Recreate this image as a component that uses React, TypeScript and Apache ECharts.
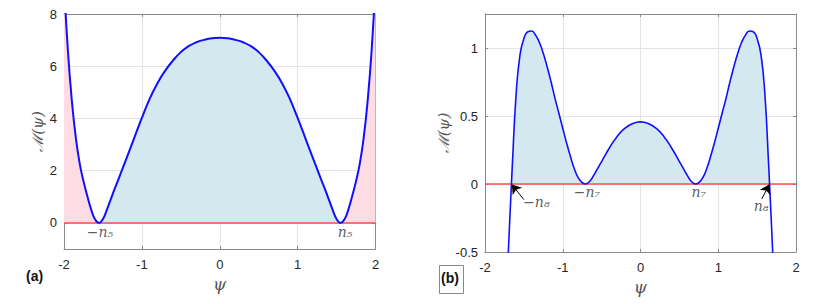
import React, { useEffect, useRef } from "react";
import * as echarts from "echarts";

// Panel (a): M(psi)
const psiA = [
  -2, -1.95, -1.9, -1.85, -1.8, -1.75, -1.7, -1.65, -1.6, -1.55, -1.5, -1.45, -1.4, -1.35,
  -1.3, -1.2, -1.1, -1.0, -0.9, -0.8, -0.7, -0.6, -0.5, -0.4, -0.3, -0.2, -0.1,
  0,
  0.1, 0.2, 0.3, 0.4, 0.5, 0.6, 0.7, 0.8, 0.9, 1.0, 1.1, 1.2, 1.3,
  1.35, 1.4, 1.45, 1.5, 1.55, 1.6, 1.65, 1.7, 1.75, 1.8, 1.85, 1.9, 1.95, 2,
];
const mA = [
  9.2, 6.6, 4.7, 3.3, 2.3, 1.6, 1.02, 0.5, 0.13, 0, 0.15, 0.5, 0.9, 1.3,
  1.68, 2.45, 3.24, 4.02, 4.75, 5.35, 5.83, 6.22, 6.54, 6.77, 6.92, 7.01, 7.07,
  7.09,
  7.07, 7.01, 6.92, 6.77, 6.54, 6.22, 5.83, 5.35, 4.75, 4.02, 3.24, 2.45, 1.68,
  1.3, 0.9, 0.5, 0.15, 0, 0.13, 0.5, 1.02, 1.6, 2.3, 3.3, 4.7, 6.6, 9.2,
];
const n5 = 1.55;

// Panel (b): M(psi)
const psiB = [
  -1.75, -1.7, -1.66, -1.65, -1.6, -1.55, -1.5, -1.45, -1.4, -1.35, -1.3, -1.25, -1.2,
  -1.15, -1.1, -1.05, -1.0, -0.95, -0.9, -0.85, -0.8, -0.75, -0.71, -0.65, -0.6, -0.55,
  -0.5, -0.4, -0.3, -0.2, -0.1,
  0,
  0.1, 0.2, 0.3, 0.4, 0.5,
  0.55, 0.6, 0.65, 0.71, 0.75, 0.8, 0.85, 0.9, 0.95, 1.0, 1.05, 1.1, 1.15,
  1.2, 1.25, 1.3, 1.35, 1.4, 1.45, 1.5, 1.55, 1.6, 1.65, 1.66, 1.7, 1.75,
];
const mB = [
  -1.2, -0.5, 0, 0.12, 0.66, 0.95, 1.07, 1.12, 1.125, 1.095, 1.04, 0.96, 0.86,
  0.75, 0.63, 0.52, 0.41, 0.3, 0.2, 0.11, 0.045, 0.01, 0, 0.022, 0.065, 0.115,
  0.165, 0.265, 0.35, 0.41, 0.445,
  0.457,
  0.445, 0.41, 0.35, 0.265, 0.165,
  0.115, 0.065, 0.022, 0, 0.01, 0.045, 0.11, 0.2, 0.3, 0.41, 0.52, 0.63, 0.75,
  0.86, 0.96, 1.04, 1.095, 1.125, 1.12, 1.07, 0.95, 0.66, 0.12, 0, -0.5, -1.2,
];
const n8 = 1.66;

const xTicks = [-2, -1, 0, 1, 2];
const yTicksA = [0, 2, 4, 6, 8];
const yTicksB = [-0.5, 0, 0.5, 1];

const annotA = ["−n₅", "n₅"];
const annotAPos = [[-1.54, -0.33], [1.61, -0.33]];
const annotB = ["−n₇", "n₇", "−n₈", "n₈"];
const annotBPos = [[-0.69, -0.06], [0.75, -0.06], [-1.34, -0.135], [1.55, -0.16]];
const arrowsB = [
  [[-1.5, -0.115], [-1.655, -0.004]],
  [[1.56, -0.11], [1.655, -0.004]],
];

const BLUE = "#1010ff";
const LIGHTBLUE = "#d4e8f0";
const PINK = "#ffdce3";
const RED = "#ff4d4d";
const GRID = "#e4e4e4";
const BORDER = "#8a8a8a";
const TXT = "#262626";

function App() {
  const ref = useRef<HTMLDivElement>(null);
  useEffect(() => {
    if (!ref.current) return;
    const chart = echarts.init(ref.current, null, { renderer: "svg" });
    const ptsA = psiA.map((x, i) => [x, mA[i]]);
    const ptsB = psiB.map((x, i) => [x, mB[i]]);

    const mkX = (gi: number, pos: "bottom" | "top", main: boolean) => ({
      type: "value",
      gridIndex: gi,
      position: pos,
      min: -2,
      max: 2,
      axisLine: { show: true, onZero: false, lineStyle: { color: BORDER, width: 1 } },
      axisTick: { show: true, inside: true, length: 3, customValues: xTicks, lineStyle: { color: BORDER } },
      axisLabel: main
        ? { show: true, customValues: xTicks, color: TXT, fontSize: 13, fontFamily: "Liberation Sans, Arial", margin: 9 }
        : { show: false },
      splitLine: main ? { show: true, lineStyle: { color: GRID, width: 1 } } : { show: false },
      name: main ? "ψ" : "",
      nameLocation: "middle",
      nameGap: 21,
      nameTextStyle: { fontFamily: "DejaVu Serif", fontStyle: "italic", fontSize: 17, color: "#555" },
    });
    const mkY = (gi: number, pos: "left" | "right", main: boolean, min: number, max: number, ticks: number[]) => ({
      type: "value",
      gridIndex: gi,
      position: pos,
      min,
      max,
      axisLine: { show: true, onZero: false, lineStyle: { color: BORDER, width: 1 } },
      axisTick: { show: true, inside: true, length: 3, customValues: ticks, lineStyle: { color: BORDER } },
      axisLabel: main
        ? { show: true, customValues: ticks, color: TXT, fontSize: 13, fontFamily: "Liberation Sans, Arial", margin: 7 }
        : { show: false },
      splitLine: main ? { show: true, lineStyle: { color: GRID, width: 1 } } : { show: false },
      name: main ? "ℳ(ψ)" : "",
      nameLocation: "middle",
      nameGap: 16,
      nameRotate: 90,
      nameTextStyle: { fontFamily: "DejaVu Serif", fontStyle: "italic", fontSize: 15, color: "#555" },
    });

    const annLabel = {
      show: true,
      position: "inside",
      formatter: (p: any) => p.data[2],
      fontFamily: "DejaVu Serif",
      fontStyle: "italic",
      fontSize: 14,
      color: "#333",
    };

    const SM = 0.5;
    const option: any = {
      animation: false,
      grid: [
        { left: 64, top: 14, width: 311.5, height: 235 },
        { left: 485, top: 14, width: 311, height: 238 },
      ],
      xAxis: [mkX(0, "bottom", true), mkX(0, "top", false), mkX(1, "bottom", true), mkX(1, "top", false)],
      yAxis: [
        mkY(0, "left", true, -1, 8, yTicksA),
        mkY(0, "right", false, -1, 8, yTicksA),
        mkY(1, "left", true, -0.5, 1.25, yTicksB),
        mkY(1, "right", false, -0.5, 1.25, yTicksB),
      ],
      graphic: [
        { type: "text", left: 26, top: 269, style: { text: "(a)", font: "bold 14px 'Liberation Sans', Arial", fill: "#111" } },
        { type: "rect", shape: { x: 439.5, y: 265.5, width: 24, height: 28 }, style: { fill: "none", stroke: "#888", lineWidth: 1 } },
        { type: "text", left: 441, top: 271, style: { text: "(b)", font: "bold 14px 'Liberation Sans', Arial", fill: "#111" } },
      ],
      series: [
        // panel (a) areas
        {
          type: "line", xAxisIndex: 0, yAxisIndex: 0, smooth: SM, symbol: "none",
          data: ptsA.filter((p) => p[0] <= -n5),
          lineStyle: { width: 0 }, areaStyle: { color: PINK, opacity: 1 }, z: 1,
        },
        {
          type: "line", xAxisIndex: 0, yAxisIndex: 0, smooth: SM, symbol: "none",
          data: ptsA.filter((p) => p[0] >= -n5 && p[0] <= n5),
          lineStyle: { width: 0 }, areaStyle: { color: LIGHTBLUE, opacity: 1 }, z: 1,
        },
        {
          type: "line", xAxisIndex: 0, yAxisIndex: 0, smooth: SM, symbol: "none",
          data: ptsA.filter((p) => p[0] >= n5),
          lineStyle: { width: 0 }, areaStyle: { color: PINK, opacity: 1 }, z: 1,
        },
        {
          type: "line", xAxisIndex: 0, yAxisIndex: 0, symbol: "none",
          data: [[-2, 0], [2, 0]], lineStyle: { color: RED, width: 1.5 }, z: 2,
        },
        {
          type: "line", xAxisIndex: 0, yAxisIndex: 0, smooth: SM, symbol: "none",
          data: ptsA, lineStyle: { color: BLUE, width: 2 }, z: 3,
        },
        {
          type: "scatter", xAxisIndex: 0, yAxisIndex: 0, symbolSize: 1,
          itemStyle: { color: "rgba(0,0,0,0)" },
          data: annotA.map((t, i) => [annotAPos[i][0], annotAPos[i][1], t]),
          label: annLabel, z: 4,
        },
        // panel (b)
        {
          type: "line", xAxisIndex: 2, yAxisIndex: 2, smooth: SM, symbol: "none",
          data: ptsB.filter((p) => p[0] >= -n8 && p[0] <= n8),
          lineStyle: { width: 0 }, areaStyle: { color: LIGHTBLUE, opacity: 1 }, z: 1,
        },
        {
          type: "line", xAxisIndex: 2, yAxisIndex: 2, symbol: "none",
          data: [[-2, 0], [2, 0]], lineStyle: { color: RED, width: 1.5 }, z: 2,
        },
        {
          type: "line", xAxisIndex: 2, yAxisIndex: 2, smooth: SM, symbol: "none",
          data: ptsB, lineStyle: { color: BLUE, width: 1.6 }, z: 3,
        },
        {
          type: "scatter", xAxisIndex: 2, yAxisIndex: 2, symbolSize: 1,
          itemStyle: { color: "rgba(0,0,0,0)" },
          data: annotB.map((t, i) => [annotBPos[i][0], annotBPos[i][1], t]),
          label: annLabel, z: 4,
          markLine: {
            silent: true,
            symbol: ["none", "arrow"],
            symbolSize: 9,
            label: { show: false },
            lineStyle: { color: "#000", type: "solid", width: 1, opacity: 1 },
            itemStyle: { color: "#000" },
            emphasis: { disabled: true },
            z: 6,
            data: arrowsB.map((a) => [{ coord: a[0] }, { coord: a[1] }]),
          },
        },
      ],
    };
    chart.setOption(option);
    return () => chart.dispose();
  }, []);
  return (
    <div
      ref={ref}
      style={{ position: "absolute", left: 0, top: 0, width: 818, height: 304, background: "#fff" }}
    />
  );
}

export default App;
